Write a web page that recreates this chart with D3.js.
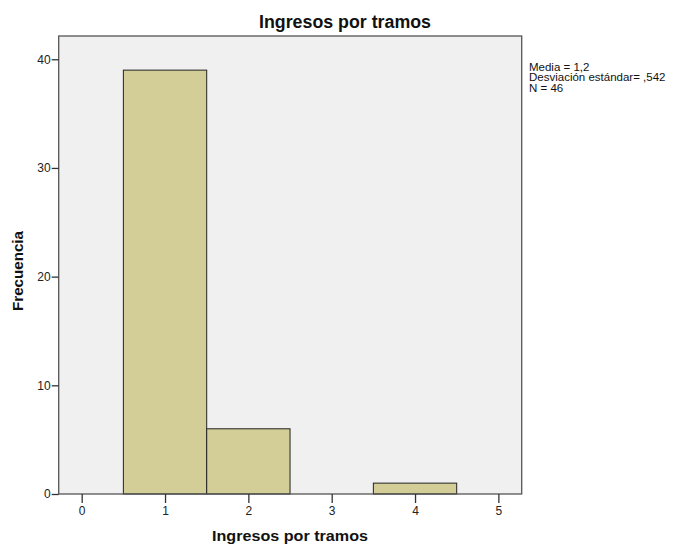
<!DOCTYPE html>
<html><head><meta charset="utf-8">
<script src="https://cdn.jsdelivr.net/npm/d3@7"></script>
<style>body{margin:0;background:#fff;} svg{display:block;font-family:"Liberation Sans",Arial,sans-serif;}</style>
</head><body>
<svg id="c" width="677" height="544"></svg>
<script>
const binStarts = [0.5, 1.5, 3.5];
const binEnds = [1.5, 2.5, 4.5];
const counts = [39, 6, 1];
const xTicks = [0, 1, 2, 3, 4, 5];
const yTicks = [0, 10, 20, 30, 40];
const statsLines = ["Media = 1,2", "Desviación estándar= ,542", "N = 46"];
const title = "Ingresos por tramos";
const xLabel = "Ingresos por tramos";
const yLabel = "Frecuencia";

const svg = d3.select("#c");
const L = 58.7, R = 521.7, T = 36, B = 494;
const x = d3.scaleLinear().domain([-0.276, 5.28]).range([L, R]);
const y = d3.scaleLinear().domain([0, 42.14]).range([B, T]);

svg.append("rect").attr("x", L).attr("y", T).attr("width", R - L).attr("height", B - T)
  .attr("fill", "#f0f0f0");

svg.selectAll("rect.bar").data(counts).enter().append("rect").attr("class", "bar")
  .attr("x", (d, i) => x(binStarts[i]))
  .attr("y", d => y(d))
  .attr("width", (d, i) => x(binEnds[i]) - x(binStarts[i]))
  .attr("height", d => B - y(d))
  .attr("fill", "#d3ce97").attr("stroke", "#222").attr("stroke-width", 1);

svg.append("rect").attr("x", L).attr("y", T).attr("width", R - L).attr("height", B - T)
  .attr("fill", "none").attr("stroke", "#555").attr("stroke-width", 1.3);

const xa = svg.append("g").attr("transform", `translate(0,${B})`)
  .call(d3.axisBottom(x).tickValues(xTicks).tickFormat(d3.format("d")).tickSize(9).tickPadding(3));
xa.select(".domain").remove();
xa.selectAll("line").attr("stroke", "#333").attr("stroke-width", 1.3);
xa.selectAll("text").attr("font-size", 12).attr("fill", "#222").attr("font-family", "Liberation Sans, Arial, sans-serif");

const ya = svg.append("g").attr("transform", `translate(${L},0)`)
  .call(d3.axisLeft(y).tickValues(yTicks).tickFormat(d3.format("d")).tickSize(7).tickPadding(1));
ya.select(".domain").remove();
ya.selectAll("line").attr("stroke", "#333").attr("stroke-width", 1.3);
ya.selectAll("text").attr("font-size", 12).attr("fill", "#222").attr("font-family", "Liberation Sans, Arial, sans-serif");

svg.append("text").attr("x", 345).attr("y", 28).attr("text-anchor", "middle")
  .attr("font-size", 17.5).attr("font-weight", "bold").attr("fill", "#111")
  .attr("textLength", 172).attr("lengthAdjust", "spacingAndGlyphs").text(title);
svg.append("text").attr("x", 290).attr("y", 541).attr("text-anchor", "middle")
  .attr("font-size", 15.5).attr("font-weight", "bold").attr("fill", "#111")
  .attr("textLength", 156).attr("lengthAdjust", "spacingAndGlyphs").text(xLabel);
svg.append("text").attr("transform", `translate(23,${271}) rotate(-90)`).attr("text-anchor", "middle")
  .attr("font-size", 15.5).attr("font-weight", "bold").attr("fill", "#111")
  .attr("textLength", 80).attr("lengthAdjust", "spacingAndGlyphs").text(yLabel);

svg.append("g").selectAll("text").data(statsLines).enter().append("text")
  .attr("x", 529).attr("y", (d, i) => 70.5 + i * 10.8)
  .attr("font-size", 11.5).attr("fill", "#111").text(d => d);
</script>
</body></html>
